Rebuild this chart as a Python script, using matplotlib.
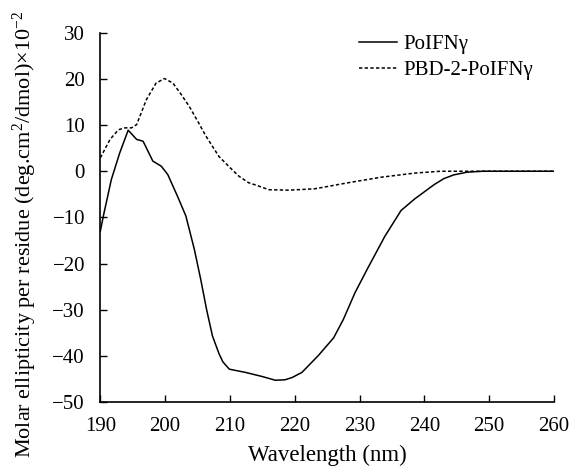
import matplotlib
matplotlib.use("Agg")
from matplotlib import pyplot as plt

plt.rcParams['font.family'] = ['Liberation Serif', 'DejaVu Serif']
plt.rcParams['mathtext.fontset'] = 'custom'
plt.rcParams['mathtext.rm'] = 'Liberation Serif'
plt.rcParams['mathtext.it'] = 'Liberation Serif:italic'

# PoIFNgamma (solid)
wl_poifn = [190.0, 190.5, 191.7, 193.0, 194.3, 195.6, 196.6, 197.3, 198.1, 199.4, 200.4,
            201.9, 203.2, 204.5, 205.5, 206.4, 207.3, 208.3, 208.9, 209.9, 212.4,
            215.0, 217.0, 218.5, 219.6, 221.1, 223.6, 226.0, 227.5, 229.3, 231.3,
            233.9, 236.4, 238.5, 241.5, 243.0, 244.5, 246.6, 249.0, 252.0, 256.0, 260.0]
cd_poifn = [-13.0, -9.5, -1.8, 4.0, 8.9, 6.9, 6.5, 4.5, 2.2, 1.1, -0.7,
            -5.4, -9.7, -16.9, -23.5, -30.0, -35.7, -39.5, -41.3, -42.9, -43.6,
            -44.5, -45.3, -45.2, -44.7, -43.6, -40.0, -36.1, -32.1, -26.3, -20.9,
            -14.1, -8.5, -6.0, -2.9, -1.6, -0.8, -0.2, 0.0, 0.0, 0.0, 0.0]

# PBD-2-PoIFNgamma (dotted)
wl_pbd = [190.0, 191.5, 192.8, 193.8, 194.8, 195.6, 197.1, 198.6, 199.9, 201.2, 202.4,
          203.7, 205.0, 206.3, 208.3, 210.0, 211.4, 212.9, 214.0, 216.0, 219.1,
          223.1, 228.2, 233.3, 238.5, 242.5, 246.0, 250.0, 255.0, 260.0]
cd_pbd = [2.9, 6.9, 9.0, 9.4, 9.4, 10.1, 15.5, 19.1, 20.1, 19.1, 16.8,
          14.1, 10.9, 7.6, 3.2, 0.8, -1.1, -2.5, -3.0, -4.0, -4.1,
          -3.8, -2.5, -1.3, -0.4, 0.0, 0.0, 0.0, 0.0, 0.0]

xticks = [190, 200, 210, 220, 230, 240, 250, 260]
yticks = [30, 20, 10, 0, -10, -20, -30, -40, -50]

fig = plt.figure(figsize=(5.7, 4.69), dpi=100)
ax = fig.add_axes([0.176, 0.143, 0.796, 0.787])

ax.plot(wl_poifn, cd_poifn, color='black', lw=1.1, label='PoIFN\u03b3')
ax.plot(wl_pbd, cd_pbd, color='black', lw=1.1, dashes=(2.2, 1.5), label='PBD-2-PoIFN\u03b3')

ax.set_xlim(190, 260)
ax.set_ylim(-50, 30)
ax.set_xticks(xticks)
ax.set_yticks(yticks)
for s in ['top', 'right']:
    ax.spines[s].set_visible(False)
for s in ['left', 'bottom']:
    ax.spines[s].set_linewidth(1.2)
ax.tick_params(direction='in', length=5, width=1.0, labelsize=15)
ax.tick_params(axis='y', pad=11)
ax.tick_params(axis='x', pad=11)

ax.set_xlabel('Wavelength (nm)', fontsize=16.5, labelpad=6)
ax.set_ylabel(r'Molar ellipticity per residue (deg.cm$^2$/dmol)$\times$10$^{-2}$',
              fontsize=16)
ax.yaxis.set_label_coords(-0.135, 0.455)

ax.legend(loc='upper left', bbox_to_anchor=(0.571, 0.995), frameon=False, fontsize=15,
          handlelength=1.8, handletextpad=0.3, labelspacing=0.3,
          borderpad=0, borderaxespad=0)

fig.savefig('out.png', dpi=100)
